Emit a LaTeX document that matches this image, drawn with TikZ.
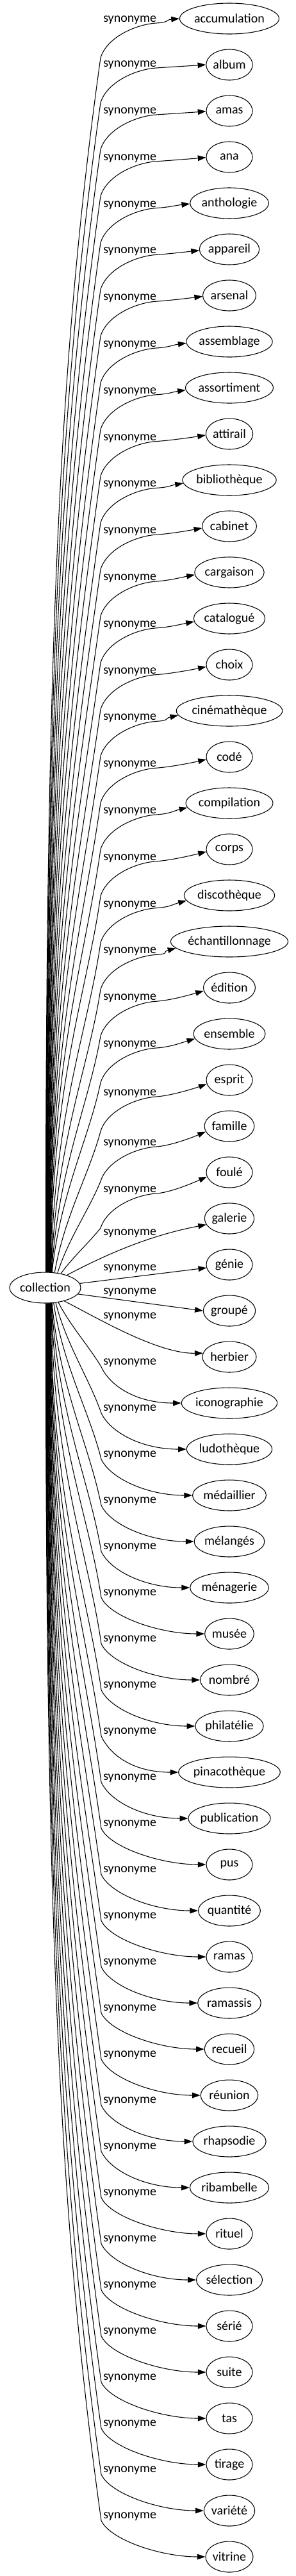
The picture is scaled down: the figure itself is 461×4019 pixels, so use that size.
\documentclass[tikz,border=0pt]{standalone}
\usepackage{fontspec}
\setmainfont{Carlito}
\newfontfamily\tmsfont{Liberation Serif}
\usetikzlibrary{shapes.geometric,arrows.meta,calc}
\newlength\mylen
\newcommand\gvwidth[1]{%
  \settowidth\mylen{\fontsize{14pt}{16pt}\selectfont\tmsfont #1}%
  \pgfmathsetmacro\ew{max(54,(\mylen+15.84)*1.41421)}}
\newcommand\startpt[1]{%
  \pgfmathsetmacro\rr{67*24/sqrt((24*cos(#1))^2+(67*sin(#1))^2)}%
  \pgfmathsetmacro\Sx{70.5+\rr*cos(#1)}%
  \pgfmathsetmacro\Sy{2009-\rr*sin(#1)}}
% upper edge: #1 index, #2 start angle, #3 label y, #4 end angle
\newcommand\upedge[4]{%
  \startpt{#2}%
  \pgfmathsetmacro\Ty{#3+60}%
  \pgfmathsetmacro\DD{\Sy-\Ty}%
  \pgfmathsetmacro\ff{min(1,\DD/600)}%
  \pgfmathsetmacro\ax{\Sx+(1-\ff)*(157-\Sx)/3}%
  \pgfmathsetmacro\ay{\Sy-\DD*(0.5*\ff+(1-\ff)/3)}%
  \pgfmathsetmacro\bx{157-\ff*0.035*\DD-(1-\ff)*(157-\Sx)/3}%
  \pgfmathsetmacro\by{\Ty+\DD*(0.25*\ff+(1-\ff)/3)}%
  \pgfmathsetmacro\NN{29+72*(#1-1)}%
  \pgfmathsetmacro\dd{0.3*(#3+6-\NN)}%
  \draw[edge] (c.#2) .. controls (\ax,\ay) and (\bx,\by) .. (157,\Ty)
    .. controls (167,{#3+28}) and (212,{#3+8}) .. (244,{#3+6})
    .. controls (266,{#3+4.5}) and ($(n#1.#4)+(-22,\dd)$) .. (n#1.#4);
  \node[lab] at (161,{#3+4.5}) {synonyme};}
% lower edge: #1 index, #2 start angle (0..360), #3 label y
\newcommand\lowedge[3]{%
  \startpt{#2}%
  \pgfmathsetmacro\Py{#3+8}%
  \pgfmathsetmacro\DD{\Py-\Sy}%
  \pgfmathsetmacro\ff{min(1,\DD/600)}%
  \pgfmathsetmacro\ax{\Sx+(1-\ff)*(158-\Sx)/3}%
  \pgfmathsetmacro\ay{\Sy+\DD*(0.5*\ff+(1-\ff)/3)}%
  \pgfmathsetmacro\bx{158-\ff*0.035*\DD-(1-\ff)*(158-\Sx)/3}%
  \pgfmathsetmacro\by{\Py-\DD*(0.25*\ff+(1-\ff)/3)}%
  \draw[edge] (c.#2) .. controls (\ax,\ay) and (\bx,\by) .. (158,\Py)
    .. controls (172,{#3+38}) and ($(n#1.west)+(-70,0)$) .. (n#1.west);
  \node[lab] at (161,{#3+4.5}) {synonyme};}
\begin{document}
\begin{tikzpicture}[x=0.75pt,y=-0.75pt,
  syn/.style={ellipse,draw,line width=0.8pt,inner sep=0pt,minimum height=36pt,
    font=\fontsize{15pt}{17pt}\selectfont},
  lab/.style={anchor=base west,inner sep=0pt,font=\fontsize{15pt}{17pt}\selectfont},
  edge/.style={line width=0.8pt,-{Triangle[length=9.5pt,width=6.5pt]}}]
\useasboundingbox (0,0) rectangle (461,4019);
\gvwidth{collection}
\node[syn,minimum width=\ew pt] (c) at (70.5,2009) {collection};
\foreach \i/\word in {1/accumulation,2/album,3/amas,4/ana,5/anthologie,6/appareil,
  7/arsenal,8/assemblage,9/assortiment,10/attirail,11/bibliothèque,12/cabinet,
  13/cargaison,14/catalogué,15/choix,16/cinémathèque,17/codé,18/compilation,
  19/corps,20/discothèque,21/échantillonnage,22/édition,23/ensemble,24/esprit,
  25/famille,26/foulé,27/galerie,28/génie,29/groupé,30/herbier,31/iconographie,
  32/ludothèque,33/médaillier,34/mélangés,35/ménagerie,36/musée,37/nombré,
  38/philatélie,39/pinacothèque,40/publication,41/pus,42/quantité,43/ramas,
  44/ramassis,45/recueil,46/réunion,47/rhapsodie,48/ribambelle,49/rituel,
  50/sélection,51/sérié,52/suite,53/tas,54/tirage,55/variété,56/vitrine}{
  \gvwidth{\word}
  \node[syn,minimum width=\ew pt] (n\i) at (358,{29+72*(\i-1)}) {\word};
}
% upper far edges
\foreach \i in {1,...,23}{
  \pgfmathsetmacro\LL{\i==1 ? 30 : (\i==2 ? 100 : 173+72.8*(\i-3))}
  \pgfmathtruncatemacro\ph{88-(\i-1)}
  \pgfmathtruncatemacro\ea{180+round((\i-1)*0.35)}
  \upedge{\i}{\ph}{\LL}{\ea}
}
\upedge{24}{58}{1705}{190}
\upedge{25}{50}{1783}{193}
\upedge{26}{42}{1856}{191}
% middle edges
\draw[edge] (c.30) .. controls (160,1960) and (230,1928) .. (n27.195);
\node[lab] at (161,1927.5) {synonyme};
\draw[edge] (c.7) -- (n28.188);
\node[lab] at (161,1982.5) {synonyme};
\draw[edge] (c.349) -- (n29.180);
\node[lab] at (161,2019.5) {synonyme};
\draw[edge] (c.325) .. controls (150,2055) and (245,2112) .. (n30.172);
\node[lab] at (161,2057) {synonyme};
% lower edges
\foreach \i in {31,...,56}{
  \pgfmathsetmacro\LL{29+72*(\i-1)-64.5}
  \pgfmathtruncatemacro\ph{\i==31 ? 312 : (\i==32 ? 305 : (\i==33 ? 299 : 294-(\i-34)))}
  \lowedge{\i}{\ph}{\LL}
}
\end{tikzpicture}
\end{document}
